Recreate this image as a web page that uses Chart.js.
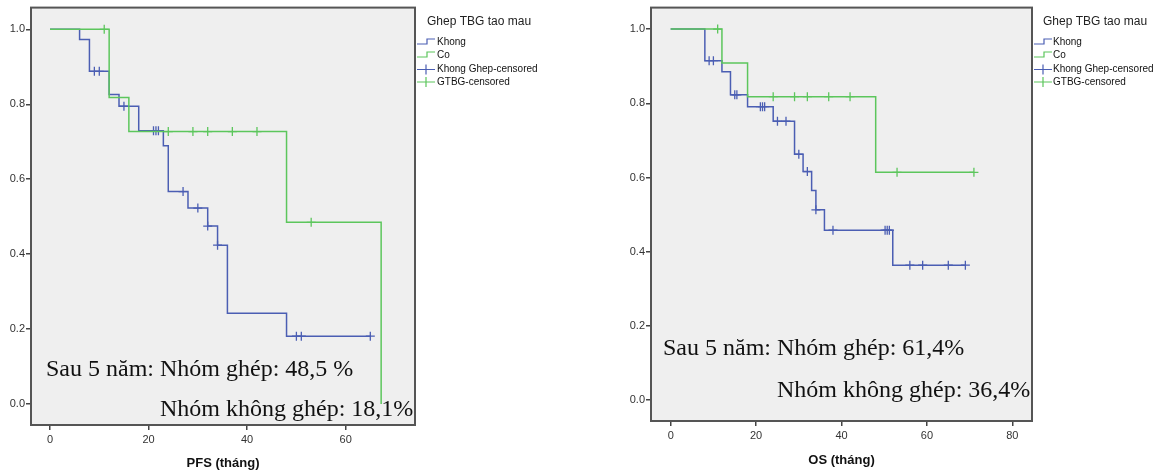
<!DOCTYPE html>
<html>
<head>
<meta charset="utf-8">
<script src="https://cdn.jsdelivr.net/npm/chart.js@4.4.0/dist/chart.umd.min.js"></script>
<style>
  html, body { margin: 0; padding: 0; background: #fff; }
  #wrap { position: relative; width: 1165px; height: 473px; overflow: hidden; }
  canvas { position: absolute; top: 0; }
  #pfs { left: 0; }
  #os { left: 600px; }
</style>
</head>
<body>
<div id="wrap">
  <canvas id="pfs" width="600" height="473"></canvas>
  <canvas id="os" width="565" height="473"></canvas>
</div>
<script>
// Kaplan–Meier estimates: event times (months) and survival after each step.
// PFS, non-transplant group ("Khong")
const pfsKhongTime = [0, 6, 8, 12, 14, 18, 23, 24, 28, 32, 34, 36, 48, 65];
const pfsKhongSurv = [1, 0.973, 0.888, 0.826, 0.795, 0.729, 0.689, 0.567, 0.523, 0.475, 0.424, 0.242, 0.181, 0.181];
const pfsKhongCensored = [9, 10, 15, 21, 21.5, 22, 27, 30, 32, 34, 50, 51, 65];
// PFS, transplant group ("Co")
const pfsCoTime = [0, 12, 16, 48, 67.2];
const pfsCoSurv = [1, 0.818, 0.727, 0.485, 0];
const pfsCoCensored = [11, 24, 29, 32, 37, 42, 53];

// OS, non-transplant group
const osKhongTime = [0, 8, 12, 14, 18, 24, 29, 31, 33, 34, 36, 52, 69];
const osKhongSurv = [1, 0.915, 0.885, 0.823, 0.791, 0.752, 0.663, 0.616, 0.565, 0.513, 0.458, 0.364, 0.364];
const osKhongCensored = [9, 10, 15, 15.5, 21, 21.5, 22, 25, 27, 30, 32, 34, 38, 50.2, 50.7, 51.2, 56, 59, 65, 69];
// OS, transplant group
const osCoTime = [0, 12, 18, 48, 71];
const osCoSurv = [1, 0.909, 0.818, 0.614, 0.614];
const osCoCensored = [11, 24, 29, 32, 37, 42, 53, 71];

// Axis ticks
const pfsXTicks = [0, 20, 40, 60];
const osXTicks = [0, 20, 40, 60, 80];
const survTicks = [0, 0.2, 0.4, 0.6, 0.8, 1.0];

// Legend entries
const legendTitle = 'Ghep TBG tao mau';
const legendLabels = ['Khong', 'Co', 'Khong Ghep-censored', 'GTBG-censored'];

// Summary notes
const pfsNotes = ['Sau 5 năm: Nhóm ghép: 48,5 %', 'Nhóm không ghép: 18,1%'];
const osNotes = ['Sau 5 năm: Nhóm ghép: 61,4%', 'Nhóm không ghép: 36,4%'];

const BLUE = '#4b5eb3';
const GREEN = '#5cc65c';
const SANS = '"Liberation Sans", Arial, sans-serif';
const SERIF = '"Liberation Serif", "Times New Roman", serif';

function curvePoints(times, surv) {
  return times.map((t, i) => ({ x: t, y: surv[i] }));
}
function survivalAt(times, surv, t) {
  let v = surv[0];
  for (let i = 0; i < times.length; i++) { if (times[i] <= t) v = surv[i]; }
  return v;
}
function censorPoints(censored, times, surv) {
  return censored.map(t => ({ x: t, y: survivalAt(times, surv, t) }));
}

const panelPlugin = {
  id: 'panel',
  beforeDraw(chart) {
    const { ctx, chartArea: a } = chart;
    ctx.save();
    ctx.fillStyle = '#efefef';
    ctx.fillRect(a.left, a.top, a.right - a.left, a.bottom - a.top);
    ctx.restore();
  },
  afterDraw(chart) {
    const { ctx, chartArea: a } = chart;
    const o = chart.options.plugins.panel;
    ctx.save();
    // frame
    ctx.strokeStyle = '#555';
    ctx.lineWidth = 2;
    ctx.strokeRect(a.left, a.top, a.right - a.left, a.bottom - a.top);

    // legend
    const lx = a.right + 2;
    ctx.fillStyle = '#222';
    ctx.textBaseline = 'middle';
    ctx.textAlign = 'left';
    ctx.font = '12px ' + SANS;
    ctx.fillText(legendTitle, lx + o.titleDx, 21.5);
    ctx.font = '10px ' + SANS;
    const rowY = [42.5, 55.5, 69.5, 82];
    const colors = [BLUE, GREEN, BLUE, GREEN];
    rowY.forEach((y, i) => {
      ctx.strokeStyle = colors[i];
      ctx.lineWidth = 1.2;
      ctx.beginPath();
      if (i < 2) {
        ctx.moveTo(lx, y + 1.5);
        ctx.lineTo(lx + 10, y + 1.5);
        ctx.lineTo(lx + 10, y - 3.5);
        ctx.lineTo(lx + 18, y - 3.5);
      } else {
        ctx.moveTo(lx, y);
        ctx.lineTo(lx + 18, y);
        ctx.moveTo(lx + 9, y - 5);
        ctx.lineTo(lx + 9, y + 5);
      }
      ctx.stroke();
      ctx.fillStyle = '#111';
      ctx.fillText(legendLabels[i], lx + o.textDx, y);
    });

    // notes
    ctx.font = '24px ' + SERIF;
    ctx.fillStyle = '#111';
    ctx.textBaseline = 'alphabetic';
    o.notes.forEach((n, i) => {
      ctx.fillText(n, a.left + o.noteX[i], o.noteY[i]);
    });
    ctx.restore();
  }
};

function stepDataset(label, times, surv, color) {
  return {
    label, data: curvePoints(times, surv), stepped: 'before',
    borderColor: color, borderWidth: 1.5, pointRadius: 0, fill: false, showLine: true
  };
}
function censorDataset(label, censored, times, surv, color) {
  return {
    label, data: censorPoints(censored, times, surv), showLine: false,
    pointStyle: 'cross', pointRadius: 4.5, pointBorderWidth: 1.3,
    borderColor: color, pointBorderColor: color, backgroundColor: color
  };
}

function makeChart(id, cfg) {
  const tickFont = { family: SANS, size: 11 };
  return new Chart(document.getElementById(id), {
    type: 'line',
    data: {
      datasets: [
        stepDataset('Co', cfg.coTime, cfg.coSurv, GREEN),
        censorDataset('GTBG-censored', cfg.coCens, cfg.coTime, cfg.coSurv, GREEN),
        stepDataset('Khong', cfg.kTime, cfg.kSurv, BLUE),
        censorDataset('Khong Ghep-censored', cfg.kCens, cfg.kTime, cfg.kSurv, BLUE)
      ]
    },
    options: {
      responsive: false,
      animation: false,
      events: [],
      layout: { padding: { top: 7, right: cfg.padRight, bottom: 0, left: 0 } },
      plugins: {
        legend: { display: false },
        tooltip: { enabled: false },
        panel: cfg.panel
      },
      scales: {
        x: {
          type: 'linear', min: cfg.xMin, max: cfg.xMax,
          afterBuildTicks: s => { s.ticks = cfg.xTicks.map(v => ({ value: v })); },
          afterFit: s => { s.height = cfg.xHeight; },
          ticks: { font: tickFont, color: '#333', padding: 3, maxRotation: 0, autoSkip: false,
                   callback: v => String(v) },
          grid: { drawOnChartArea: false, tickLength: 5, color: '#444', lineWidth: 1.5 },
          border: { display: false },
          title: { display: true, text: cfg.xTitle, color: '#111',
                   font: { family: SANS, size: 13, weight: 'bold' },
                   padding: { top: 0, bottom: cfg.titlePad } }
        },
        y: {
          type: 'linear', min: -0.056, max: 1.058,
          afterBuildTicks: s => { s.ticks = survTicks.map(v => ({ value: v })); },
          afterFit: s => { s.width = cfg.yWidth; },
          ticks: { font: tickFont, color: '#333', padding: 1, autoSkip: false,
                   callback: v => Number(v).toFixed(1) },
          grid: { drawOnChartArea: false, tickLength: 5, color: '#444', lineWidth: 1.5 },
          border: { display: false }
        }
      }
    },
    plugins: [panelPlugin]
  });
}

makeChart('pfs', {
  coTime: pfsCoTime, coSurv: pfsCoSurv, coCens: pfsCoCensored,
  kTime: pfsKhongTime, kSurv: pfsKhongSurv, kCens: pfsKhongCensored,
  xMin: -3.86, xMax: 74.07, xTicks: pfsXTicks, xTitle: 'PFS (tháng)',
  padRight: 185, yWidth: 31, xHeight: 48, titlePad: 2,
  panel: { titleDx: 10, textDx: 20, notes: pfsNotes, noteX: [15, 129], noteY: [376, 416] }
});

makeChart('os', {
  coTime: osCoTime, coSurv: osCoSurv, coCens: osCoCensored,
  kTime: osKhongTime, kSurv: osKhongSurv, kCens: osKhongCensored,
  xMin: -4.61, xMax: 84.6, xTicks: osXTicks, xTitle: 'OS (tháng)',
  padRight: 133, yWidth: 51, xHeight: 52, titlePad: 5,
  panel: { titleDx: 9, textDx: 19, notes: osNotes, noteX: [12, 126], noteY: [355, 397] }
});
</script>
</body>
</html>
